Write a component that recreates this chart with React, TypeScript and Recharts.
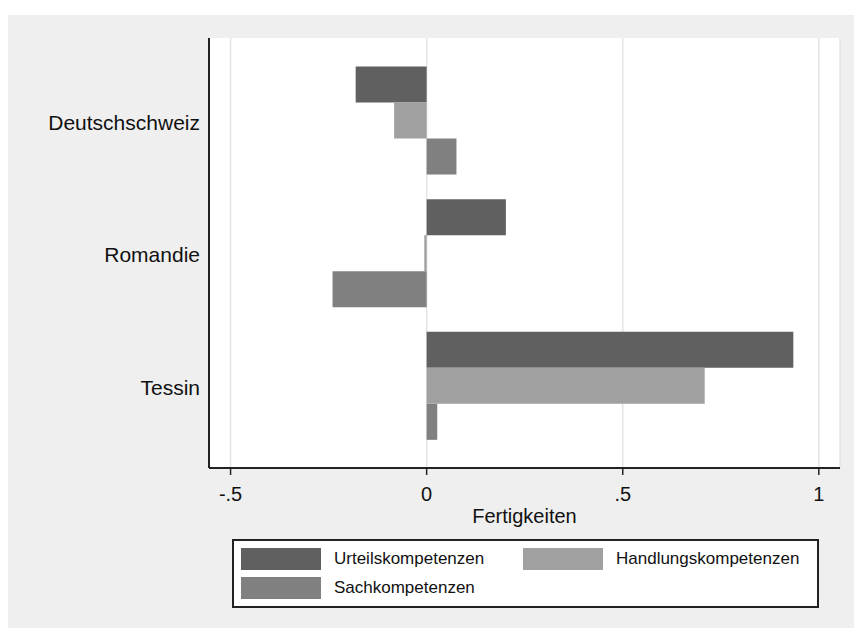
import React from "react";
import { BarChart, Bar, XAxis, YAxis, CartesianGrid, Legend } from "recharts";

const regions = ["Deutschschweiz", "Romandie", "Tessin"];
const urteilskompetenzen = [-0.181, 0.202, 0.935];
const handlungskompetenzen = [-0.083, -0.006, 0.709];
const sachkompetenzen = [0.076, -0.24, 0.027];
const xTicks = [-0.5, 0, 0.5, 1];

const seriesNames = ["Urteilskompetenzen", "Handlungskompetenzen", "Sachkompetenzen"];
const seriesColors = ["#606060", "#a0a0a0", "#808080"];

const data = regions.map((region, i) => ({
  region,
  urteil: urteilskompetenzen[i],
  handlung: handlungskompetenzen[i],
  sach: sachkompetenzen[i],
}));

const FONT = "Arial, 'Liberation Sans', sans-serif";

const fmt = (v: number) => {
  if (v === 0) return "0";
  const s = String(v);
  return s.replace("0.", ".");
};

const legendPos = [
  { left: 7, top: 7 },
  { left: 289, top: 7 },
  { left: 7, top: 36 },
];

const renderLegend = (props: any) => {
  const payload = [...(props.payload || [])].sort(
    (a: any, b: any) => seriesNames.indexOf(a.value) - seriesNames.indexOf(b.value)
  );
  return (
    <div
      style={{
        position: "relative",
        width: 587,
        height: 69,
        boxSizing: "border-box",
        border: "2px solid #222",
        background: "#fff",
        fontFamily: FONT,
        fontSize: 17,
        color: "#111",
      }}
    >
      {payload.map((entry: any, i: number) => (
        <div
          key={i}
          style={{
            position: "absolute",
            left: legendPos[i].left,
            top: legendPos[i].top,
            display: "flex",
            alignItems: "center",
            height: 22,
          }}
        >
          <div style={{ width: 80, height: 22, background: entry.color, marginRight: 13 }} />
          <span style={{ whiteSpace: "nowrap" }}>{entry.value}</span>
        </div>
      ))}
    </div>
  );
};

export default function App() {
  return (
    <div style={{ position: "relative", width: 854, height: 628, background: "#fff" }}>
      <style>{"html,body{margin:0;padding:0;overflow:hidden;}"}</style>
      <div style={{ position: "absolute", left: 8, top: 15, width: 846, height: 613, background: "#efefef" }}>
        <BarChart
          width={846}
          height={613}
          data={data}
          layout="vertical"
          margin={{ top: 23, right: 14, bottom: 100, left: 0 }}
          barCategoryGap={12.5}
          barGap={0}
        >
          <CartesianGrid horizontal={false} vertical={true} stroke="#e4e4e4" strokeWidth={1.5} fill="#ffffff" />
          <XAxis
            type="number"
            domain={[-0.555, 1.054]}
            allowDataOverflow
            ticks={xTicks}
            tickFormatter={fmt}
            tickSize={7}
            tickMargin={12}
            axisLine={{ stroke: "#222", strokeWidth: 2 }}
            tickLine={{ stroke: "#222", strokeWidth: 1.5 }}
            tick={{ fill: "#111", fontSize: 20, fontFamily: FONT }}
            height={60}
            label={{
              value: "Fertigkeiten",
              position: "insideBottom",
              offset: 5,
              fill: "#111",
              fontSize: 20,
              fontFamily: FONT,
            }}
          />
          <YAxis
            type="category"
            dataKey="region"
            width={201}
            padding={{ top: 16, bottom: 16 }}
            tickLine={false}
            tickSize={0}
            tickMargin={9}
            axisLine={{ stroke: "#222", strokeWidth: 2 }}
            tick={{ fill: "#111", fontSize: 21, fontFamily: FONT, dy: 2 }}
          />
          <Legend
            layout="horizontal"
            verticalAlign="middle"
            align="center"
            content={renderLegend}
            wrapperStyle={{ left: 224, top: 524, width: 587, height: 69, bottom: "auto" }}
          />
          <Bar dataKey="urteil" name={seriesNames[0]} fill={seriesColors[0]} isAnimationActive={false} />
          <Bar dataKey="handlung" name={seriesNames[1]} fill={seriesColors[1]} isAnimationActive={false} />
          <Bar dataKey="sach" name={seriesNames[2]} fill={seriesColors[2]} isAnimationActive={false} />
        </BarChart>
      </div>
    </div>
  );
}
